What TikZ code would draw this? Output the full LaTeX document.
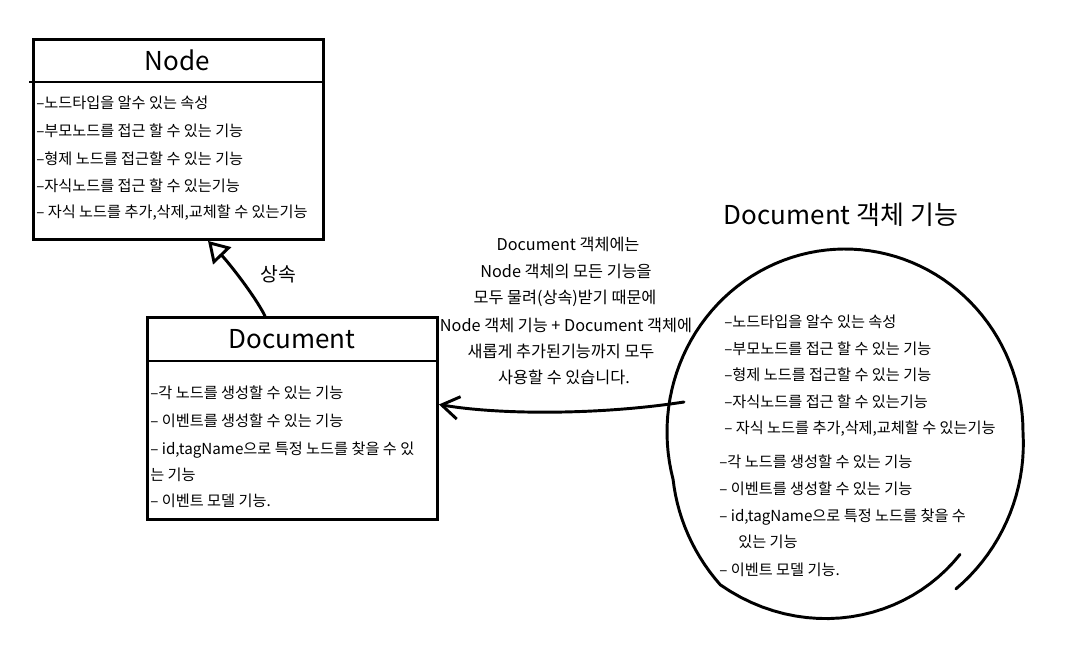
\documentclass[tikz,border=0pt]{standalone}
\usepackage{fontspec}
\setmainfont{Noto Sans CJK KR}
\usetikzlibrary{arrows.meta,calc}
\begin{document}
\begin{tikzpicture}[x=0.75pt,y=-0.75pt,
  umlbox/.style={draw, line width=2.2pt, anchor=north west, inner sep=0pt},
  divider/.style={line width=2pt},
  boxtitle/.style={font=\fontsize{19.5}{23}\selectfont, anchor=center},
  bodyline/.style={font=\fontsize{11.4}{13}\selectfont, anchor=base west, inner sep=0pt},
  midline/.style={font=\fontsize{12.2}{14}\selectfont, anchor=base, inner sep=0pt},
  loop/.style={line width=2.2pt, line cap=round},
  conn/.style={line width=2.2pt, line cap=round}]
\useasboundingbox (0,0) rectangle (1070,645);
\fill[white] (0,0) rectangle (1070,645);

% Node box
\node[umlbox, minimum width=217.5pt, minimum height=150pt] (nodebox) at (32,38) {};
\draw[divider] ($(nodebox.north west)+(-3,44)$) -- ($(nodebox.north east)+(0,44)$);
\node[boxtitle] (nodetitle) at (177,60) {Node};
\node[bodyline] (n1) at (36,109) {–노드타입을 알수 있는 속성};
\node[bodyline] (n2) at (36,137) {–부모노드를 접근 할 수 있는 기능};
\node[bodyline] (n3) at (36,165) {–형제 노드를 접근할 수 있는 기능};
\node[bodyline] (n4) at (36,192) {–자식노드를 접근 할 수 있는기능};
\node[bodyline] (n5) at (36,218) {– 자식 노드를 추가,삭제,교체할 수  있는기능};

% Document box
\node[umlbox, minimum width=217.5pt, minimum height=151.5pt] (docbox) at (146,316) {};
\draw[divider] ($(docbox.north west)+(0,45)$) -- ($(docbox.north east)+(0,45)$);
\node[boxtitle] (doctitle) at (292,339) {Document};
\node[bodyline] (d1) at (150,398) {–각 노드를 생성할 수 있는 기능};
\node[bodyline] (d2) at (150,426) {– 이벤트를 생성할 수 있는 기능};
\node[bodyline] (d3) at (150,454) {– id,tagName으로 특정 노드를 찾을 수 있};
\node[bodyline] (d4) at (150,480) {는 기능};
\node[bodyline] (d5) at (150,506) {– 이벤트 모델 기능.};

% inheritance
\draw[conn, -{Triangle[open, length=15.5pt, width=18.5pt, line width=2.2pt]}]
  ([xshift=89.25pt]docbox.north west) .. controls (255,296) and (229,263) .. ([xshift=132pt]nodebox.south west);
\node[font=\fontsize{14.5}{16}\selectfont] (inh) at (278,274) {상속};

% explanation
\node[midline] (m1) at (568,251) {Document 객체에는};
\node[midline] (m2) at (566,277) {Node 객체의 모든 기능을};
\node[midline] (m3) at (565,303) {모두 물려(상속)받기 때문에};
\node[midline] (m4) at (566,331) {Node 객체 기능 + Document 객체에};
\node[midline] (m5) at (561,357) {새롭게 추가된기능까지  모두};
\node[midline] (m6) at (564,383) {사용할 수 있습니다.};

% circle
\node[font=\fontsize{19.5}{23}\selectfont] (ctitle) at (841,215) {Document 객체 기능};
\draw[loop]
  plot[domain=-46:-130, samples=25] ({845+178*(0.93+0.16*(-46-\x)/84)*cos(\x)}, {432-183*(0.93+0.16*(-46-\x)/84)*sin(\x)})
  -- plot[domain=-130:-165, samples=15] ({845+178*(1.09-0.09*(-130-\x)/35)*cos(\x)}, {432-183*(1.09-0.09*(-130-\x)/35)*sin(\x)})
  -- plot[domain=-165:-360, samples=70] ({845+178*cos(\x)}, {432-183*sin(\x)})
  -- plot[domain=-360:-414, samples=20] ({845+178*(1+0.06*(-360-\x)/54)*cos(\x)}, {432-183*(1+0.06*(-360-\x)/54)*sin(\x)});

\node[bodyline] (c1) at (724,327) {–노드타입을 알수 있는 속성};
\node[bodyline] (c2) at (724,354) {–부모노드를 접근 할 수 있는 기능};
\node[bodyline] (c3) at (724,380) {–형제 노드를 접근할 수 있는 기능};
\node[bodyline] (c4) at (724,407) {–자식노드를 접근 할 수 있는기능};
\node[bodyline] (c5) at (724,433) {– 자식 노드를 추가,삭제,교체할 수  있는기능};
\node[bodyline] (c6) at (719,467) {–각 노드를 생성할 수 있는 기능};
\node[bodyline] (c7) at (719,494) {– 이벤트를 생성할 수 있는 기능};
\node[bodyline] (c8) at (719,521) {– id,tagName으로 특정 노드를 찾을 수};
\node[bodyline] (c9) at (738,547) {있는 기능};
\node[bodyline] (c10) at (719,575) {– 이벤트 모델 기능.};

% arrow from circle to Document
\coordinate (cstart) at (684,402);
\draw[conn, -{Straight Barb[length=13pt, width=17pt, line width=2.2pt]}]
  (cstart) .. controls (600,415) and (500,415) .. ([yshift=10.5pt]docbox.east);
\end{tikzpicture}
\end{document}
